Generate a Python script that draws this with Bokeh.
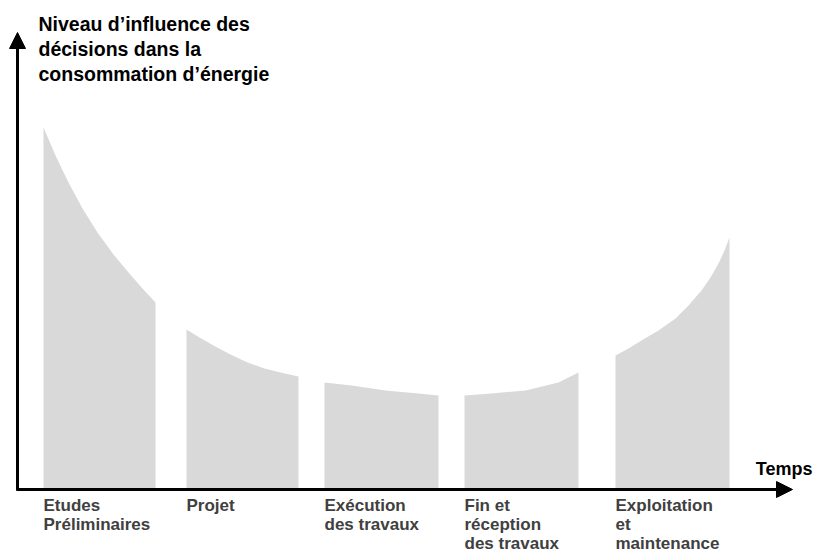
from bokeh.plotting import figure
from bokeh.models import Range1d, Arrow, NormalHead, ColumnDataSource
from bokeh.core.properties import value
from bokeh.embed import file_html
from bokeh.resources import INLINE

# Phases (left to right along the time axis)
phases = ["Etudes\nPréliminaires", "Projet", "Exécution\ndes travaux",
          "Fin et\nréception\ndes travaux", "Exploitation\net\nmaintenance"]

# Influence curve read per phase: time positions and influence levels
seg1_t = [26, 38, 51, 65, 80, 96, 111, 125, 138]
seg1_v = [362, 334, 307, 281, 257, 235, 217, 201, 187]
seg2_t = [169, 182, 196, 213, 230, 247, 263, 281]
seg2_v = [160, 152, 144, 135, 127, 121, 117, 113]
seg3_t = [307, 334, 368, 401, 421]
seg3_v = [107, 104, 99, 96, 94]
seg4_t = [447, 474, 508, 541, 561]
seg4_v = [94, 96, 99, 107, 117]
seg5_t = [598, 611, 624, 641, 658, 671, 684, 693, 701, 707, 712]
seg5_v = [134, 141, 149, 159, 171, 184, 199, 212, 226, 239, 252]

segments_t = [seg1_t, seg2_t, seg3_t, seg4_t, seg5_t]
segments_v = [seg1_v, seg2_v, seg3_v, seg4_v, seg5_v]

y_title = "Niveau d\u2019influence des\ndécisions dans la\nconsommation d\u2019énergie"
x_title = "Temps"

W, H = 828, 554
p = figure(width=W, height=H, output_backend="svg", toolbar_location=None,
           x_range=Range1d(-17, W - 17), y_range=Range1d(489 - H, 489),
           min_border=0, min_border_left=0, min_border_right=0,
           min_border_top=0, min_border_bottom=0)
p.xaxis.visible = False
p.yaxis.visible = False
p.xgrid.visible = False
p.ygrid.visible = False
p.outline_line_color = None
p.background_fill_color = "white"

xs, ys = [], []
for t, v in zip(segments_t, segments_v):
    xs.append([t[0]] + t + [t[-1]])
    ys.append([0] + v + [0])
p.patches(xs, ys, fill_color="#d9d9d9", line_color=None)

# axes with arrows
p.add_layout(Arrow(x_start=0, y_start=-1, x_end=0, y_end=457, line_width=3, line_color="black",
                   end=NormalHead(size=16, fill_color="black", line_color="black", line_width=1)))
p.add_layout(Arrow(x_start=-1, y_start=0, x_end=775, y_end=0, line_width=3, line_color="black",
                   end=NormalHead(size=16, fill_color="black", line_color="black", line_width=1)))

# phase labels
starts = [t[0] for t in segments_t]
src = ColumnDataSource(dict(x=starts, y=[-6] * len(starts), text=phases))
p.text(x="x", y="y", text="text", source=src, text_font=value("Liberation Sans"),
       text_font_style="bold", text_font_size="17px", text_color="#404040",
       text_baseline="top", text_align="left", text_line_height=1.02)

p.text(x=[21], y=[477], text=[y_title], text_font=value("Liberation Sans"),
       text_font_style="bold", text_font_size="19.5px", text_color="black",
       text_baseline="top", text_align="left", text_line_height=1.15)
p.text(x=[795], y=[21], text=[x_title], text_font=value("Liberation Sans"),
       text_font_style="bold", text_font_size="18px", text_color="black",
       text_baseline="alphabetic", text_align="right")

open("out.html", "w").write(file_html(p, INLINE))
